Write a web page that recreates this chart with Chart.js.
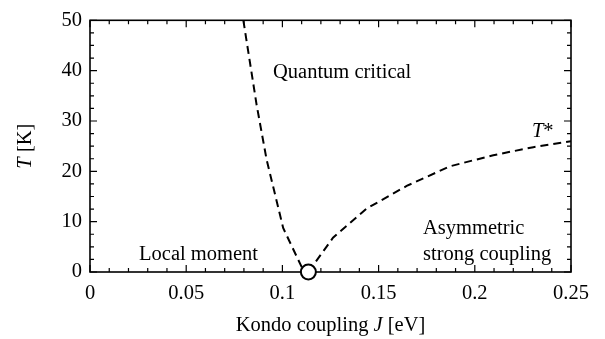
<!DOCTYPE html>
<html>
<head>
<meta charset="utf-8">
<script src="https://cdn.jsdelivr.net/npm/chart.js@4.4.0/dist/chart.umd.min.js"></script>
<style>
  html, body { margin: 0; padding: 0; background: #fff; }
</style>
</head>
<body>
<canvas id="myChart" width="605" height="339"></canvas>
<script>
// phase boundaries (J in eV, T in K)
var leftJ = [0.0797, 0.0866, 0.0918, 0.1004, 0.1100, 0.1135];
var leftT = [50, 33.2, 22.3, 8.75, 1.0, 0];

var rightJ = [0.1135, 0.1263, 0.1438, 0.1646, 0.1871, 0.2096, 0.2304, 0.25];
var rightT = [0, 6.8, 12.6, 17.1, 21.0, 23.2, 24.8, 26.0];

var criticalJ = [0.1135];
var criticalT = [0];

var xTickLabels = ['0', '0.05', '0.1', '0.15', '0.2', '0.25'];
var yTickLabels = ['0', '10', '20', '30', '40', '50'];

// region names, placed in data units (left edge, baseline)
var regionText = ['Quantum critical', 'Local moment', 'Asymmetric', 'strong coupling'];
var regionJ = [0.0951, 0.0255, 0.1731, 0.1731];
var regionT = [38.6, 2.3, 7.5, 2.3];

var serif = "'Liberation Serif', 'Times New Roman', serif";
var fontPx = 20.5;
Chart.defaults.font.family = serif;
Chart.defaults.font.size = fontPx;
Chart.defaults.color = '#000';

function pts(xs, ys) {
  return xs.map(function (x, i) { return { x: x, y: ys[i] }; });
}

// draw a run of [text, italic] pieces starting at x
function richText(c, parts, x, y, align) {
  var total = 0;
  parts.forEach(function (p) {
    c.font = (p[1] ? 'italic ' : '') + fontPx + 'px ' + serif;
    total += c.measureText(p[0]).width;
  });
  var cx = align === 'center' ? x - total / 2 : x;
  c.textAlign = 'left';
  parts.forEach(function (p) {
    c.font = (p[1] ? 'italic ' : '') + fontPx + 'px ' + serif;
    c.fillText(p[0], cx, y);
    cx += c.measureText(p[0]).width;
  });
}

var frame = {
  id: 'frame',
  beforeDatasetsDraw: function (chart) {
    var c = chart.ctx, a = chart.chartArea;
    var xs = chart.scales.x, ys = chart.scales.y;
    c.save();
    c.strokeStyle = '#000';
    c.lineWidth = 1.2;
    c.beginPath();
    for (var i = 0; i <= 25; i++) {
      var px = xs.getPixelForValue(i * 0.01);
      var len = i % 5 === 0 ? 7 : 4;
      c.moveTo(px, a.bottom); c.lineTo(px, a.bottom - len);
      c.moveTo(px, a.top); c.lineTo(px, a.top + len);
    }
    for (var j = 0; j <= 20; j++) {
      var py = ys.getPixelForValue(j * 2.5);
      var len2 = j % 4 === 0 ? 7 : 4;
      c.moveTo(a.left, py); c.lineTo(a.left + len2, py);
      c.moveTo(a.right, py); c.lineTo(a.right - len2, py);
    }
    c.stroke();
    c.lineWidth = 1.6;
    c.strokeRect(a.left, a.top, a.right - a.left, a.bottom - a.top);
    c.restore();
  },
  afterDraw: function (chart) {
    var c = chart.ctx, a = chart.chartArea;
    var xs = chart.scales.x, ys = chart.scales.y;
    c.save();
    c.fillStyle = '#000';
    c.textBaseline = 'alphabetic';
    regionText.forEach(function (t, i) {
      richText(c, [[t, false]], xs.getPixelForValue(regionJ[i]), ys.getPixelForValue(regionT[i]), 'left');
    });
    richText(c, [['T', true], ['*', false]], xs.getPixelForValue(0.2297), ys.getPixelForValue(26.8), 'left');

    // axis titles
    richText(c, [['Kondo coupling ', false], ['J', true], [' [eV]', false]], (a.left + a.right) / 2, 331, 'center');
    c.translate(31, (a.top + a.bottom) / 2);
    c.rotate(-Math.PI / 2);
    richText(c, [['T', true], [' [K]', false]], 0, 0, 'center');
    c.restore();
  }
};

var ctx = document.getElementById('myChart').getContext('2d');

var myChart = new Chart(ctx, {
  type: 'line',
  data: {
    datasets: [
      {
        label: 'critical point',
        data: pts(criticalJ, criticalT),
        showLine: false,
        pointRadius: 7.5,
        pointBorderWidth: 2,
        pointBorderColor: '#000',
        pointBackgroundColor: '#fff',
        clip: false,
        order: 0
      },
      {
        label: 'left boundary',
        data: pts(leftJ, leftT),
        borderColor: '#000',
        borderWidth: 2,
        borderDash: [8, 5],
        pointRadius: 0,
        tension: 0,
        order: 1
      },
      {
        label: 'T*',
        data: pts(rightJ, rightT),
        borderColor: '#000',
        borderWidth: 2,
        borderDash: [8, 5],
        pointRadius: 0,
        tension: 0,
        order: 1
      }
    ]
  },
  options: {
    responsive: false,
    animation: false,
    devicePixelRatio: 1,
    layout: { padding: { top: 13, right: 34, left: 0, bottom: 0 } },
    plugins: {
      legend: { display: false },
      tooltip: { enabled: false },
      title: { display: false }
    },
    scales: {
      x: {
        type: 'linear',
        min: 0,
        max: 0.25,
        grid: { display: false, drawTicks: false },
        border: { display: false },
        ticks: {
          stepSize: 0.05,
          padding: 9,
          maxRotation: 0,
          callback: function (v, i) { return xTickLabels[i]; }
        },
        afterFit: function (s) { s.height = 67; }
      },
      y: {
        type: 'linear',
        min: 0,
        max: 50,
        grid: { display: false, drawTicks: false },
        border: { display: false },
        ticks: {
          stepSize: 10,
          padding: 8,
          callback: function (v, i) { return yTickLabels[i]; }
        },
        afterFit: function (s) { s.width = 90; }
      }
    }
  },
  plugins: [frame]
});
</script>
</body>
</html>
